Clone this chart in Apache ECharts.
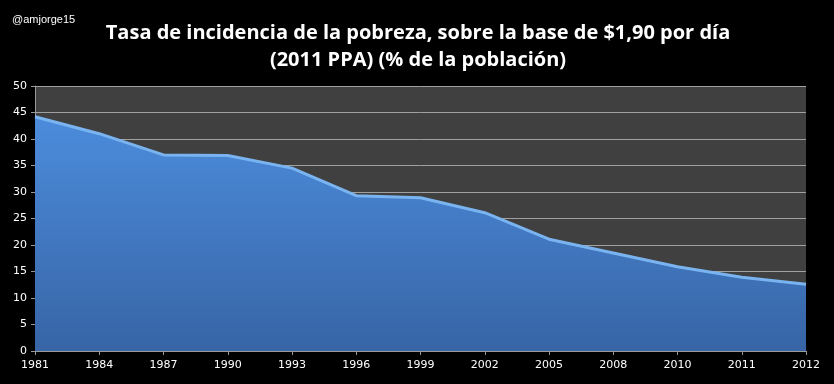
<!DOCTYPE html>
<html><head><meta charset="utf-8">
<script src="https://cdn.jsdelivr.net/npm/echarts@6/dist/echarts.min.js"></script>
<style>html,body{margin:0;padding:0;background:#000;}#c{width:834px;height:384px;}</style>
</head><body><div id="c"></div>
<script>
var years = ['1981','1984','1987','1990','1993','1996','1999','2002','2005','2008','2010','2011','2012'];
var values = [44.2, 41.0, 37.0, 36.9, 34.5, 29.3, 28.9, 26.1, 21.1, 18.5, 15.9, 13.9, 12.6];
var titleText = 'Tasa de incidencia de la pobreza, sobre la base de $1,90 por día\n(2011 PPA) (% de la población)';
var handle = '@amjorge15';

var chart = echarts.init(document.getElementById('c'));
chart.setOption({
  backgroundColor: '#000',
  animation: false,
  title: [{
    text: titleText, left: 413, top: 15, textAlign: 'center',
    textStyle: {color: '#fff', fontFamily: 'Open Sans', fontWeight: 'bold', fontSize: 20, lineHeight: 27}
  }, {
    text: handle, left: 7, top: 9,
    textStyle: {color: '#fff', fontFamily: 'Liberation Sans', fontWeight: 'normal', fontSize: 11}
  }],
  grid: {left: 35, right: 28, top: 86, bottom: 33, show: true, backgroundColor: '#404040', borderWidth: 0},
  xAxis: {
    type: 'category', data: years, boundaryGap: false,
    axisLine: {lineStyle: {color: '#999', width: 1}},
    axisTick: {show: true, inside: false, length: 4, lineStyle: {color: '#999'}},
    axisLabel: {color: '#fff', fontFamily: 'DejaVu Sans', fontSize: 11, margin: 9},
    splitLine: {show: false}
  },
  yAxis: {
    type: 'value', min: 0, max: 50, interval: 5,
    axisLine: {show: true, lineStyle: {color: '#999', width: 1}},
    axisTick: {show: true, length: 4, lineStyle: {color: '#999'}},
    axisLabel: {color: '#fff', fontFamily: 'DejaVu Sans', fontSize: 11, margin: 8},
    splitLine: {show: true, lineStyle: {color: '#a0a0a0', width: 1}}
  },
  series: [{
    type: 'line', data: values, symbol: 'none',
    lineStyle: {color: '#7ab4f0', width: 3},
    areaStyle: {
      opacity: 1,
      color: new echarts.graphic.LinearGradient(0, 0, 0, 1, [
        {offset: 0, color: '#4c8cdc'},
        {offset: 1, color: '#3765a6'}
      ])
    }
  }]
});
</script></body></html>
